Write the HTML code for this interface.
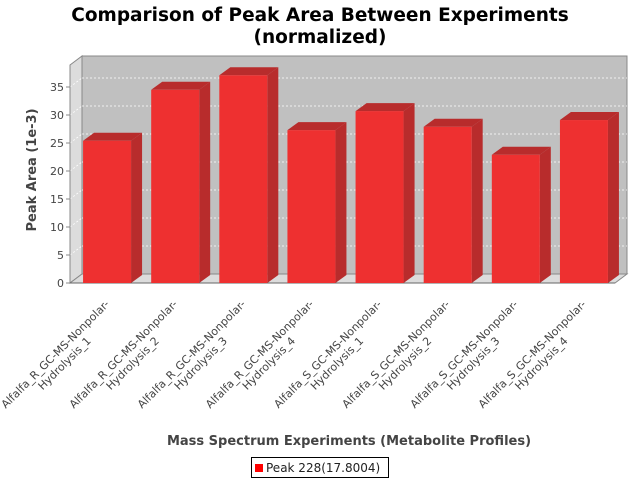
<!DOCTYPE html>
<html><head><meta charset="utf-8"><style>
html,body{margin:0;padding:0;background:#fff}
svg{display:block;font-family:"DejaVu Sans","Liberation Sans",sans-serif}
</style></head><body>
<svg id="chart" width="640" height="480" viewBox="0 0 640 480">
<text x="320" y="21" text-anchor="middle" font-size="18.5" font-weight="bold" fill="#000">Comparison of Peak Area Between Experiments</text>
<text x="320" y="43" text-anchor="middle" font-size="18.5" font-weight="bold" fill="#000">(normalized)</text>
<g id="plot"></g>
<text transform="translate(36,170) rotate(-90)" text-anchor="middle" font-size="13" font-weight="bold" fill="#444">Peak Area (1e-3)</text>
<text x="349" y="445" text-anchor="middle" font-size="13" font-weight="bold" fill="#444">Mass Spectrum Experiments (Metabolite Profiles)</text>
<g>
<rect x="251.5" y="457.5" width="137" height="20" fill="#fff" stroke="#000"/>
<rect x="255" y="464" width="8" height="8" fill="#f00"/>
<text x="266" y="472" font-size="12" fill="#222">Peak 228(17.8004)</text>
</g>
</svg>
<script>
const categories=["Alfalfa_R_GC-MS-Nonpolar-|Hydrolysis_1","Alfalfa_R_GC-MS-Nonpolar-|Hydrolysis_2","Alfalfa_R_GC-MS-Nonpolar-|Hydrolysis_3","Alfalfa_R_GC-MS-Nonpolar-|Hydrolysis_4","Alfalfa_S_GC-MS-Nonpolar-|Hydrolysis_1","Alfalfa_S_GC-MS-Nonpolar-|Hydrolysis_2","Alfalfa_S_GC-MS-Nonpolar-|Hydrolysis_3","Alfalfa_S_GC-MS-Nonpolar-|Hydrolysis_4"];
const values=[25.4,34.5,37.1,27.3,30.7,27.9,22.9,29.1];
const yTicks=[0,5,10,15,20,25,30,35];
const NS="http://www.w3.org/2000/svg";
const g=document.getElementById('plot');
const X0=70,X1=615,Y0=283,YT=65,DX=12,DY=-9;
const yScale=v=>Y0-v*5.6;
const step=(X1-X0)/categories.length;
const xc=i=>X0+step*(i+0.5)+3;
function el(t,a,p){const e=document.createElementNS(NS,t);for(const k in a)e.setAttribute(k,a[k]);(p||g).appendChild(e);return e;}
// back wall, left wall, floor
let e;
e=el('polygon',{points:`${X0},${YT} ${X0+DX},${YT+DY} ${X0+DX},${Y0+DY} ${X0},${Y0}`,fill:'#dcdcdc',stroke:'#888'});


e=el('rect',{x:X0+DX,y:YT+DY,width:X1-X0,height:Y0-YT,fill:'#c0c0c0',stroke:'#888'});


e=el('polygon',{points:`${X0},${Y0} ${X0+DX},${Y0+DY} ${X1+DX},${Y0+DY} ${X1},${Y0}`,fill:'#dcdcdc',stroke:'#888'});


yTicks.forEach(t=>{
  const y=yScale(t);
  if(t>0){
    e=el('line',{x1:X0+DX,x2:X1+DX,y1:y+DY,y2:y+DY,stroke:'#fff','stroke-dasharray':'2,2','stroke-width':0.8});
    
    
    el('line',{x1:X0,x2:X0+DX,y1:y,y2:y+DY,stroke:'#fff','stroke-dasharray':'2,2','stroke-width':0.8});
  }
  el('line',{x1:X0-4,x2:X0,y1:y,y2:y,stroke:'#888'});
  e=el('text',{x:X0-6,y:y+4,'text-anchor':'end','font-size':11,fill:'#444'});
  e.textContent=t;
  
  
});
el('line',{x1:X0,x2:X0,y1:YT,y2:Y0,stroke:'#888'});
el('line',{x1:X0,x2:X1,y1:Y0,y2:Y0,stroke:'#666'});
const bw=48;
values.forEach((v,i)=>{
  const cx=xc(i),x=cx-bw/2,y=yScale(v);
  const b=el('g',{});
  
  
  el('polygon',{points:`${x+bw},${y} ${x+bw+DX-1},${y+DY+1} ${x+bw+DX-1},${Y0+DY+1} ${x+bw},${Y0}`,fill:'#b82c2c'},b);
  el('polygon',{points:`${x},${y} ${x+DX-1},${y+DY+1} ${x+bw+DX-1},${y+DY+1} ${x+bw},${y}`,fill:'#b82c2c'},b);
  el('rect',{x:x,y:y,width:bw,height:Y0-y,fill:'#ee3030'},b);
  const parts=categories[i].split('|');
  const lb=el('text',{transform:`translate(${cx-52},${354}) rotate(-45)`,'text-anchor':'middle','font-size':11,fill:'#444'});
  
  
  const t1=el('tspan',{x:0,y:4},lb);t1.textContent=parts[0];
  const t2=el('tspan',{x:0,y:17},lb);t2.textContent=parts[1];
});
</script>
</body></html>
